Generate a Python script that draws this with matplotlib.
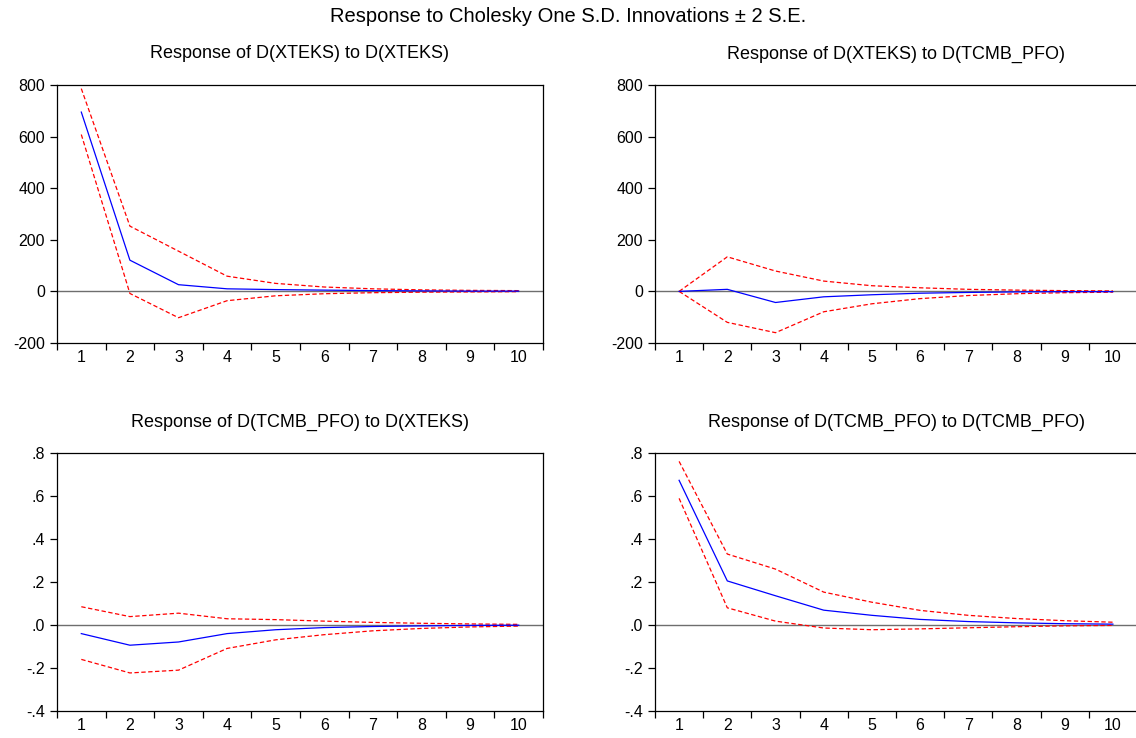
import matplotlib
matplotlib.use("Agg")
import matplotlib.pyplot as plt
import numpy as np

plt.rcParams['font.family'] = ['Liberation Sans', 'DejaVu Sans']

periods = list(range(1, 11))

# Response of D(XTEKS) to D(XTEKS)
xx_resp = [695, 121, 26, 10, 7, 5, 3, 2, 1, 1]
xx_upper = [786, 253, 156, 59, 31, 17, 10, 6, 4, 3]
xx_lower = [608, -8, -102, -36, -17, -9, -5, -3, -2, -1]

# Response of D(XTEKS) to D(TCMB_PFO)
xt_resp = [0, 8, -43, -21, -13, -7, -4, -2, -1, -1]
xt_upper = [0, 134, 79, 40, 22, 14, 8, 5, 3, 2]
xt_lower = [0, -120, -160, -79, -48, -28, -16, -9, -5, -3]

# Response of D(TCMB_PFO) to D(XTEKS)
tx_resp = [-0.040, -0.094, -0.079, -0.040, -0.022, -0.012, -0.007, -0.004, -0.002, -0.001]
tx_upper = [0.085, 0.039, 0.055, 0.029, 0.025, 0.018, 0.012, 0.008, 0.005, 0.003]
tx_lower = [-0.160, -0.223, -0.210, -0.109, -0.069, -0.045, -0.027, -0.016, -0.009, -0.005]

# Response of D(TCMB_PFO) to D(TCMB_PFO)
tt_resp = [0.673, 0.205, 0.136, 0.069, 0.045, 0.026, 0.016, 0.010, 0.006, 0.004]
tt_upper = [0.761, 0.330, 0.260, 0.153, 0.106, 0.068, 0.045, 0.030, 0.020, 0.013]
tt_lower = [0.589, 0.080, 0.018, -0.014, -0.022, -0.018, -0.013, -0.008, -0.004, -0.002]

titles = [
    "Response of D(XTEKS) to D(XTEKS)",
    "Response of D(XTEKS) to D(TCMB_PFO)",
    "Response of D(TCMB_PFO) to D(XTEKS)",
    "Response of D(TCMB_PFO) to D(TCMB_PFO)",
]

top_ticks = [-200, 0, 200, 400, 600, 800]
top_labels = ["-200", "0", "200", "400", "600", "800"]
bottom_ticks = [-0.4, -0.2, 0.0, 0.2, 0.4, 0.6, 0.8]
bottom_labels = ["-.4", "-.2", ".0", ".2", ".4", ".6", ".8"]

W, H = 1136, 738
fig = plt.figure(figsize=(W / 100, H / 100), dpi=100)


def px_axes(left, top, right, bottom):
    return fig.add_axes([left / W, 1 - bottom / H, (right - left) / W, (bottom - top) / H])


panels = [
    (px_axes(57, 85, 543, 343), xx_resp, xx_upper, xx_lower, top_ticks, top_labels, (-200, 800)),
    (px_axes(655, 85, 1137, 343), xt_resp, xt_upper, xt_lower, top_ticks, top_labels, (-200, 800)),
    (px_axes(57, 453, 543, 711), tx_resp, tx_upper, tx_lower, bottom_ticks, bottom_labels, (-0.4, 0.8)),
    (px_axes(655, 453, 1137, 711), tt_resp, tt_upper, tt_lower, bottom_ticks, bottom_labels, (-0.4, 0.8)),
]

for (ax, resp, up, lo, yt, yl, ylim), title in zip(panels, titles):
    ax.axhline(0, color="#6e6e6e", lw=1.0, zorder=1)
    ax.plot(periods, up, color="#ff0000", lw=0.9, ls=(0, (3.5, 2)), zorder=2)
    ax.plot(periods, lo, color="#ff0000", lw=0.9, ls=(0, (3.5, 2)), zorder=2)
    ax.plot(periods, resp, color="#0000ff", lw=0.9, zorder=3)
    ax.set_xlim(0.5, 10.5)
    ax.set_ylim(*ylim)
    ax.set_yticks(yt)
    ax.set_yticklabels(yl)
    # period boundaries carry the tick marks, period centres carry the labels
    ax.set_xticks(np.arange(0.5, 11.0, 1.0))
    ax.set_xticklabels([])
    ax.set_xticks(periods, minor=True)
    ax.set_xticklabels([str(p) for p in periods], minor=True)
    ax.tick_params(axis="x", which="major", direction="out", length=5, width=0.9)
    ax.tick_params(axis="x", which="minor", length=0, pad=5, labelsize=11.5)
    ax.tick_params(axis="y", direction="out", length=5, width=0.9, pad=3.5, labelsize=11.5)
    for s in ax.spines.values():
        s.set_linewidth(0.9)
    ax.annotate(title, xy=(0.5, 1.0), xycoords="axes fraction",
                xytext=(0, 31 * 0.72), textcoords="offset points",
                ha="center", va="center", fontsize=13)

fig.text(0.5, 1 - 16 / H, "Response to Cholesky One S.D. Innovations \u00b1 2 S.E.",
         ha="center", va="center", fontsize=14.5)

fig.savefig("out.png", dpi=100)
